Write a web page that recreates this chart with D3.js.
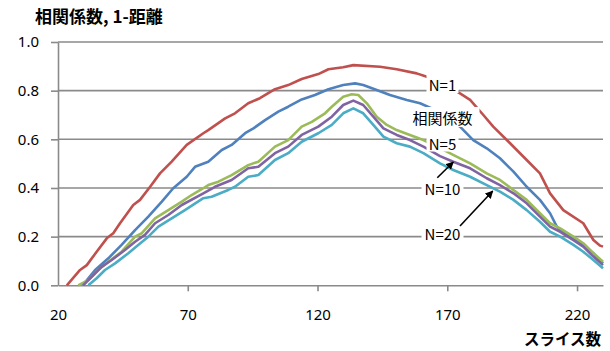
<!DOCTYPE html>
<html>
<head>
<meta charset="utf-8">
<script src="https://cdn.jsdelivr.net/npm/d3@7"></script>
<style>
  html, body { margin: 0; padding: 0; background: #fff; }
  svg { display: block; font-family: "Noto Sans CJK JP", "Noto Sans", sans-serif; }
</style>
</head>
<body>
<svg id="chart" width="610" height="351"></svg>
<script>
// Tick values
const xTicks = [20, 70, 120, 170, 220];
const yTicks = [0, 0.2, 0.4, 0.6, 0.8, 1.0];

// Series: [slice count, value]
const corr = [[29.5,0],[34.3,0.063],[39.4,0.111],[44.5,0.166],[49.7,0.227],[54.8,0.282],[60.0,0.344],[64.4,0.399],[69.6,0.446],[72.8,0.487],[77.9,0.508],[83.1,0.556],[86.9,0.577],[92.1,0.625],[95.3,0.645],[99.8,0.679],[104.9,0.714],[108.7,0.734],[113.9,0.764],[119.0,0.782],[124.2,0.806],[129.9,0.823],[134.5,0.830],[137.6,0.823],[142.8,0.803],[147.9,0.782],[154.4,0.762],[159.5,0.748],[167.2,0.712],[174.9,0.652],[180.0,0.597],[185.2,0.563],[190.3,0.522],[195.5,0.467],[200.6,0.405],[205.7,0.351],[209.6,0.296],[212.2,0.241],[216.0,0.207],[221.2,0.173],[226.3,0.132],[230,0.090]];

const distN1 = [[23.4,0],[28.5,0.063],[31.1,0.083],[34.9,0.138],[38.8,0.193],[41.3,0.214],[43.9,0.255],[49.0,0.330],[51.6,0.351],[55.5,0.405],[59.3,0.460],[63.8,0.508],[69.6,0.577],[76.0,0.625],[77.9,0.638],[84.4,0.686],[88.2,0.707],[93.3,0.748],[97.8,0.769],[103.6,0.806],[108.7,0.823],[113.9,0.848],[120.3,0.868],[124.2,0.888],[129.9,0.896],[133.8,0.905],[144.1,0.898],[150.5,0.888],[158.2,0.871],[162.1,0.857],[167.2,0.835],[174.9,0.789],[178.8,0.762],[183.9,0.700],[187.7,0.652],[194.2,0.584],[200.6,0.515],[205.7,0.460],[209.6,0.378],[214.7,0.309],[222.4,0.255],[226.3,0.186],[228.9,0.163],[230,0.159]];

const distN5 = [[27.8,0],[31.7,0.022],[35.5,0.063],[39.4,0.097],[44.5,0.138],[49.7,0.200],[52.3,0.214],[57.4,0.275],[62.5,0.309],[67.7,0.344],[71.5,0.371],[76.0,0.399],[77.9,0.412],[81.8,0.426],[86.9,0.453],[93.3,0.494],[97.2,0.508],[103.6,0.570],[108.7,0.597],[113.9,0.652],[117.8,0.672],[122.9,0.707],[125.5,0.734],[129.9,0.775],[133.2,0.785],[135.7,0.782],[139.0,0.748],[142.8,0.693],[146.7,0.659],[150.5,0.638],[155.6,0.618],[160.8,0.597],[167.2,0.564],[173.6,0.529],[178.8,0.501],[185.2,0.460],[190.3,0.433],[195.5,0.392],[200.6,0.351],[205.7,0.296],[209.6,0.255],[213.5,0.234],[218.6,0.200],[222.4,0.173],[226.3,0.132],[230,0.097]];

const distN10 = [[29.7,0],[33.0,0.035],[36.8,0.076],[40.7,0.104],[45.8,0.145],[49.7,0.179],[53.5,0.207],[57.4,0.255],[62.5,0.289],[67.7,0.330],[76.0,0.378],[80.5,0.405],[86.9,0.433],[93.3,0.481],[97.2,0.487],[103.6,0.543],[108.7,0.570],[113.9,0.618],[120.3,0.652],[125.5,0.693],[129.9,0.741],[133.8,0.759],[137.6,0.741],[141.5,0.693],[145.4,0.645],[150.5,0.618],[155.6,0.597],[160.8,0.570],[167.2,0.531],[172.3,0.508],[178.8,0.481],[185.2,0.440],[190.3,0.412],[195.5,0.378],[200.6,0.337],[205.7,0.282],[209.6,0.241],[213.5,0.220],[218.6,0.186],[222.4,0.159],[226.3,0.118],[230,0.083]];

const distN20 = [[31.7,0],[34.9,0.029],[38.1,0.063],[42.0,0.090],[47.1,0.132],[50.9,0.166],[54.8,0.200],[58.7,0.241],[63.8,0.275],[68.9,0.309],[76.0,0.358],[79.2,0.364],[85.6,0.392],[88.2,0.405],[93.3,0.446],[97.2,0.453],[103.6,0.515],[108.7,0.543],[113.9,0.590],[120.3,0.625],[125.5,0.659],[129.9,0.707],[133.8,0.727],[137.6,0.707],[141.5,0.659],[145.4,0.611],[150.5,0.584],[155.6,0.570],[160.8,0.543],[167.2,0.501],[172.3,0.474],[178.8,0.446],[185.2,0.412],[190.3,0.385],[195.5,0.351],[200.6,0.309],[205.7,0.261],[209.6,0.220],[213.5,0.200],[218.6,0.166],[222.4,0.138],[226.3,0.104],[230,0.070]];

const seriesList = [
  { data: corr,    color: "#4F81BD" },
  { data: distN1,  color: "#C0504D" },
  { data: distN5,  color: "#9BBB59" },
  { data: distN10, color: "#8064A2" },
  { data: distN20, color: "#4BACC6" }
];

const svg = d3.select("#chart");
const plotLeft = 58, plotRight = 603, plotTop = 42, plotBottom = 285.3;
const gridColor = "#8a8a8a";

const x = d3.scaleLinear().domain([20, 230]).range([plotLeft, plotRight]);
const y = d3.scaleLinear().domain([0, 1]).range([plotBottom, plotTop]);

// Horizontal gridlines
svg.append("g")
  .selectAll("line")
  .data(yTicks.filter(d => d > 0))
  .join("line")
  .attr("x1", plotLeft).attr("x2", plotRight)
  .attr("y1", d => y(d)).attr("y2", d => y(d))
  .attr("stroke", gridColor).attr("stroke-width", 1.6);

// Y axis
const yAxis = svg.append("g")
  .attr("transform", `translate(${plotLeft},0)`)
  .call(d3.axisLeft(y).tickValues(yTicks).tickSize(7).tickSizeOuter(0)
    .tickPadding(12).tickFormat(d3.format(".1f")));
yAxis.select(".domain").attr("stroke", gridColor).attr("stroke-width", 1.6);
yAxis.selectAll(".tick line").attr("stroke", gridColor).attr("stroke-width", 1.6);
yAxis.selectAll(".tick text").attr("font-size", 15).attr("fill", "#000")
  .attr("font-family", "'Noto Sans', sans-serif");

// X axis
const xAxis = svg.append("g")
  .attr("transform", `translate(0,${plotBottom})`)
  .call(d3.axisBottom(x).tickValues(xTicks).tickSize(6).tickSizeOuter(0).tickPadding(18));
xAxis.select(".domain").attr("stroke", gridColor).attr("stroke-width", 1.6);
xAxis.selectAll(".tick line").attr("stroke", gridColor).attr("stroke-width", 1.6)
  .attr("display", d => d === 20 ? "none" : null);
xAxis.selectAll(".tick text").attr("font-size", 15).attr("fill", "#000")
  .attr("font-family", "'Noto Sans', sans-serif");

// Series lines
const line = d3.line().x(d => x(d[0])).y(d => y(d[1]));
svg.append("g")
  .selectAll("path")
  .data(seriesList)
  .join("path")
  .attr("d", d => line(d.data))
  .attr("fill", "none")
  .attr("stroke", d => d.color)
  .attr("stroke-width", 2.6)
  .attr("stroke-linejoin", "round");

// Series labels with white backing
const labels = [
  { text: "N=1",     cx: 442.5, cy: 84,  w: 32, h: 18 },
  { text: "相関係数", cx: 442.5, cy: 117, w: 74, h: 20 },
  { text: "N=5",     cx: 442.5, cy: 143, w: 32, h: 17 },
  { text: "N=10",    cx: 442.5, cy: 188, w: 42, h: 17 },
  { text: "N=20",    cx: 442.5, cy: 233, w: 42, h: 17 }
];
const lg = svg.append("g");
lg.selectAll("rect").data(labels).join("rect")
  .attr("x", d => d.cx - d.w / 2).attr("y", d => d.cy - d.h / 2)
  .attr("width", d => d.w).attr("height", d => d.h)
  .attr("fill", "#fff");
lg.selectAll("text").data(labels).join("text")
  .attr("x", d => d.cx).attr("y", d => d.cy)
  .attr("text-anchor", "middle").attr("dominant-baseline", "central")
  .attr("font-size", 15).attr("fill", "#000")
  .text(d => d.text);

// Pointer arrows
svg.append("defs").append("marker")
  .attr("id", "arrowhead").attr("viewBox", "0 0 10 10")
  .attr("refX", 9).attr("refY", 5)
  .attr("markerWidth", 5).attr("markerHeight", 5)
  .attr("orient", "auto")
  .append("path").attr("d", "M0,0 L10,5 L0,10 Z").attr("fill", "#000");
const arrows = [
  { x1: 437.3, y1: 177.7, x2: 453.3, y2: 162 },
  { x1: 460,   y1: 226,   x2: 492.7, y2: 191 }
];
svg.append("g").selectAll("line").data(arrows).join("line")
  .attr("x1", d => d.x1).attr("y1", d => d.y1)
  .attr("x2", d => d.x2).attr("y2", d => d.y2)
  .attr("stroke", "#000").attr("stroke-width", 1.6)
  .attr("marker-end", "url(#arrowhead)");

// Titles
svg.append("text")
  .attr("x", 35).attr("y", 15)
  .attr("dominant-baseline", "central")
  .attr("font-size", 17).attr("font-weight", "bold")
  .text("相関係数, 1-距離");
svg.append("text")
  .attr("x", 601).attr("y", 338)
  .attr("text-anchor", "end").attr("dominant-baseline", "central")
  .attr("font-size", 15.5).attr("font-weight", "bold")
  .text("スライス数");
</script>
</body>
</html>
